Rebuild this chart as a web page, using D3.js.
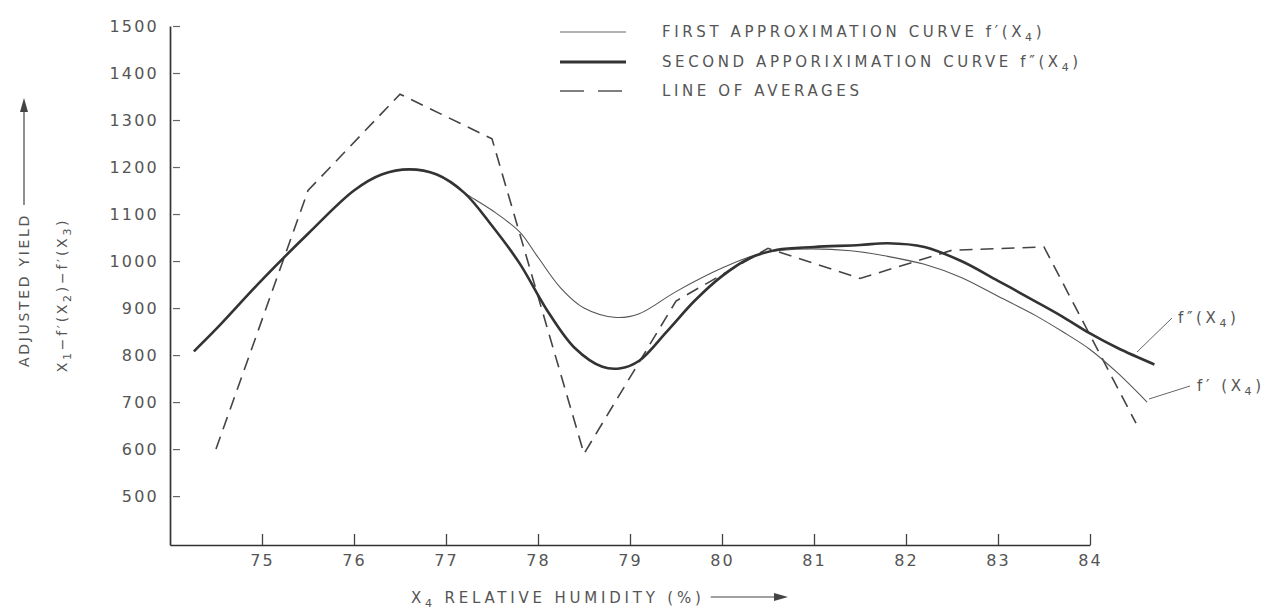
<!DOCTYPE html>
<html>
<head>
<meta charset="utf-8">
<script src="https://cdn.jsdelivr.net/npm/d3@7"></script>
<style>
  body { margin: 0; background: #fff; }
  svg text { font-family: "DejaVu Sans", sans-serif; fill: #555; }
  .tick text { font-size: 16px; letter-spacing: 2.2px; }
  .lab { font-size: 14px; letter-spacing: 2.7px; }
  .leg { font-size: 15px; letter-spacing: 3.6px; }
  .title { font-size: 15px; letter-spacing: 3.8px; }
</style>
</head>
<body>
<div id="chart"></div>
<script>
// values
var humidityTicks = [75, 76, 77, 78, 79, 80, 81, 82, 83, 84];
var yieldTicks = [500, 600, 700, 800, 900, 1000, 1100, 1200, 1300, 1400, 1500];

// first approximation curve f'(x4)
var firstX = [74.26, 74.5, 75.0, 75.5, 76.0, 76.3, 76.6, 76.9, 77.2, 77.5, 77.8, 78.0, 78.25, 78.5, 78.85, 79.1, 79.5, 80.0, 80.4, 80.8, 81.4, 81.8, 82.2, 82.6, 83.0, 83.4, 83.7, 84.0, 84.3, 84.62];
var firstY = [808, 855, 960, 1058, 1150, 1184, 1195, 1184, 1145, 1108, 1062, 1008, 942, 900, 880, 888, 935, 985, 1015, 1025, 1022, 1010, 993, 965, 925, 885, 850, 812, 762, 700];

// second approximation curve f''(x4)
var secondX = [74.26, 74.5, 75.0, 75.5, 76.0, 76.3, 76.6, 76.9, 77.2, 77.5, 77.8, 78.1, 78.4, 78.7, 78.9, 79.1, 79.4, 79.7, 80.0, 80.3, 80.6, 81.0, 81.5, 81.8, 82.2, 82.6, 83.0, 83.4, 83.7, 84.0, 84.3, 84.7];
var secondY = [808, 855, 960, 1058, 1150, 1184, 1195, 1184, 1145, 1075, 995, 895, 815, 775, 772, 788, 850, 915, 968, 1006, 1024, 1030, 1034, 1038, 1030, 1000, 958, 915, 882, 846, 815, 780];

// line of averages
var avgX = [74.5, 75.5, 76.5, 77.5, 78.5, 79.5, 80.5, 81.5, 82.5, 83.5, 84.5];
var avgY = [600, 1150, 1355, 1260, 590, 915, 1027, 963, 1023, 1030, 655];

var totalWidth = 1266, totalHeight = 613;

var svg = d3.select("#chart").append("svg")
    .attr("width", totalWidth)
    .attr("height", totalHeight);

// scales
var x = d3.scaleLinear().domain([74, 84]).range([170, 1090]);
var y = d3.scaleLinear().domain([396, 1500]).range([545, 26]);

// axes
var xAxis = d3.axisBottom(x).tickValues(humidityTicks).tickSize(-11).tickSizeOuter(0).tickPadding(10)
    .tickFormat(d3.format("d"));
var yAxis = d3.axisLeft(y).tickValues(yieldTicks).tickSize(-9).tickSizeOuter(0).tickPadding(11)
    .tickFormat(d3.format("d"));

var gx = svg.append("g").attr("transform", "translate(0,545)").call(xAxis);
var gy = svg.append("g").attr("transform", "translate(170,0)").call(yAxis);
gx.select(".domain").attr("stroke", "#333").attr("stroke-width", 1.7);
gy.select(".domain").attr("stroke", "#333").attr("stroke-width", 1.7);
gx.selectAll(".tick line").attr("stroke", "#444").attr("stroke-width", 1.3);
gy.selectAll(".tick line").attr("stroke", "#666").attr("stroke-width", 1.2)
    .attr("x1", 3).attr("x2", 10);
gx.selectAll(".tick text").attr("fill", "#555");
gy.selectAll(".tick text").attr("fill", "#555");

// lines
function pts(xs, ys) { return xs.map(function(d, i) { return [d, ys[i]]; }); }
var smooth = d3.line().x(function(d) { return x(d[0]); }).y(function(d) { return y(d[1]); })
    .curve(d3.curveCatmullRom.alpha(0.5));
var straight = d3.line().x(function(d) { return x(d[0]); }).y(function(d) { return y(d[1]); });

svg.append("path").attr("d", straight(pts(avgX, avgY)))
    .attr("fill", "none").attr("stroke", "#444").attr("stroke-width", 1.6)
    .attr("stroke-dasharray", "13,8");
svg.append("path").attr("d", smooth(pts(firstX, firstY)))
    .attr("fill", "none").attr("stroke", "#555").attr("stroke-width", 1.1);
svg.append("path").attr("d", smooth(pts(secondX, secondY)))
    .attr("fill", "none").attr("stroke", "#333").attr("stroke-width", 2.6);

// legend
var legend = svg.append("g");
var rows = [
  {y: 32, w: 1.1, c: "#666", dash: null, text: ["FIRST APPROXIMATION CURVE  f′(X", "4", ")"]},
  {y: 62, w: 2.8, c: "#333", dash: null, text: ["SECOND APPORIXIMATION CURVE  f″(X", "4", ")"]},
  {y: 91, w: 1.4, c: "#555", dash: "24,14", text: ["LINE OF AVERAGES"]}
];
rows.forEach(function(r) {
  legend.append("line").attr("x1", 560).attr("x2", 626).attr("y1", r.y).attr("y2", r.y)
      .attr("stroke", r.c).attr("stroke-width", r.w).attr("stroke-dasharray", r.dash);
  var t = legend.append("text").attr("class", "leg").attr("x", 662).attr("y", r.y + 5);
  t.append("tspan").text(r.text[0]);
  if (r.text.length > 1) {
    t.append("tspan").attr("dy", 4).style("font-size", "11px").text(r.text[1]);
    t.append("tspan").attr("dy", -4).text(r.text[2]);
  }
});

// curve labels on the right
svg.append("line").attr("x1", 1172).attr("y1", 318).attr("x2", 1137).attr("y2", 352)
    .attr("stroke", "#666").attr("stroke-width", 1);
var t1 = svg.append("text").attr("class", "leg").attr("x", 1178).attr("y", 323);
t1.append("tspan").text("f″(X");
t1.append("tspan").attr("dy", 4).style("font-size", "11px").text("4");
t1.append("tspan").attr("dy", -4).text(")");

svg.append("line").attr("x1", 1190).attr("y1", 386).attr("x2", 1149).attr("y2", 399)
    .attr("stroke", "#666").attr("stroke-width", 1);
var t2 = svg.append("text").attr("class", "leg").attr("x", 1197).attr("y", 391);
t2.append("tspan").text("f′ (X");
t2.append("tspan").attr("dy", 4).style("font-size", "11px").text("4");
t2.append("tspan").attr("dy", -4).text(")");

// y axis titles
svg.append("text").attr("class", "lab")
    .attr("transform", "translate(29,290) rotate(-90)")
    .style("text-anchor", "middle").text("ADJUSTED YIELD");
svg.append("line").attr("x1", 24).attr("x2", 24).attr("y1", 205).attr("y2", 108)
    .attr("stroke", "#444").attr("stroke-width", 1.2);
svg.append("path").attr("d", "M20,112 L24,98 L28,112 Z").attr("fill", "#444");

var yt2 = svg.append("text").attr("class", "lab")
    .attr("transform", "translate(67,295) rotate(-90)")
    .style("text-anchor", "middle");
yt2.append("tspan").text("X");
yt2.append("tspan").attr("dy", 4).style("font-size", "11px").text("1");
yt2.append("tspan").attr("dy", -4).text("−f′(X");
yt2.append("tspan").attr("dy", 4).style("font-size", "11px").text("2");
yt2.append("tspan").attr("dy", -4).text(")−f′(X");
yt2.append("tspan").attr("dy", 4).style("font-size", "11px").text("3");
yt2.append("tspan").attr("dy", -4).text(")");

// x axis title with arrow
var xt = svg.append("text").attr("class", "title").attr("x", 411).attr("y", 603);
xt.append("tspan").text("X");
xt.append("tspan").attr("dy", 4).style("font-size", "11px").text("4");
xt.append("tspan").attr("dy", -4).text(" RELATIVE HUMIDITY (%)");
var xtEnd = 411 + xt.node().getComputedTextLength();
svg.append("line").attr("x1", xtEnd + 6).attr("x2", 778).attr("y1", 597).attr("y2", 597)
    .attr("stroke", "#444").attr("stroke-width", 1.2);
svg.append("path").attr("d", "M774,593 L788,597 L774,601 Z").attr("fill", "#444");
</script>
</body>
</html>
